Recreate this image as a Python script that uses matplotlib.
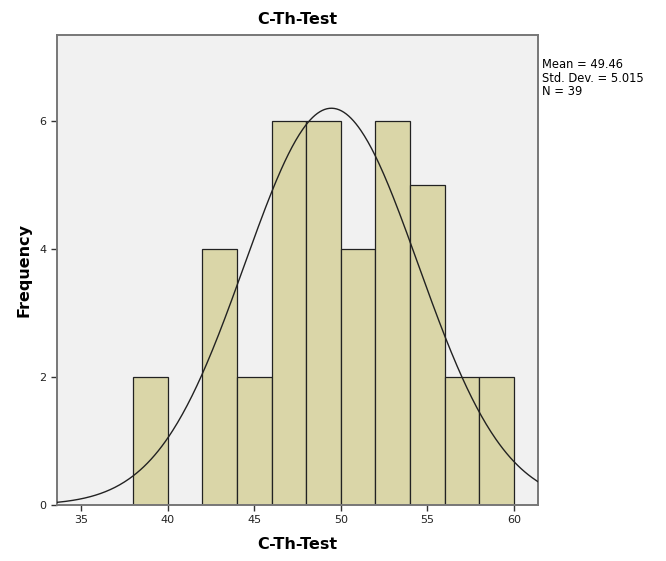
import numpy as np
import matplotlib
matplotlib.use("Agg")
import matplotlib.pyplot as plt

bin_edges = [38, 40, 42, 44, 46, 48, 50, 52, 54, 56, 58, 60]
counts = [2, 0, 4, 2, 6, 6, 4, 6, 5, 2, 2]
mean = 49.46
std = 5.015
n = 39
x_ticks = [35, 40, 45, 50, 55, 60]
y_ticks = [0, 2, 4, 6]

fig = plt.figure(figsize=(6.66, 5.61), dpi=100)
ax = fig.add_axes([0.0856, 0.0998, 0.7222, 0.8378])
ax.set_facecolor('#F1F1F1')

lefts = bin_edges[:-1]
widths = np.diff(bin_edges)
ax.bar(lefts, counts, width=widths, align='edge', color='#DAD6A8',
       edgecolor='#222222', linewidth=0.9, zorder=2)

xs = np.linspace(33.6, 61.4, 400)
bw = 2.0
ys = n * bw / (std * np.sqrt(2 * np.pi)) * np.exp(-0.5 * ((xs - mean) / std) ** 2)
ax.plot(xs, ys, color='#222222', linewidth=1.0, zorder=3)

ax.set_xlim(33.6, 61.4)
ax.set_ylim(0, 7.35)
ax.set_xticks(x_ticks)
ax.set_yticks(y_ticks)
ax.tick_params(labelsize=8, length=4, width=1, color='#333333', labelcolor='#222222')
for s in ax.spines.values():
    s.set_color('#777777')
    s.set_linewidth(1.4)

ax.set_title('C-Th-Test', fontsize=11.5, fontweight='bold', pad=8)
ax.set_xlabel('C-Th-Test', fontsize=11.5, fontweight='bold', labelpad=8)
ax.set_ylabel('Frequency', fontsize=11.5, fontweight='bold', labelpad=6)

fig.text(0.814, 0.896, 'Mean = 49.46\nStd. Dev. = 5.015\nN = 39',
         fontsize=8.3, va='top', ha='left', linespacing=1.05)

fig.savefig('out.png', dpi=100)
